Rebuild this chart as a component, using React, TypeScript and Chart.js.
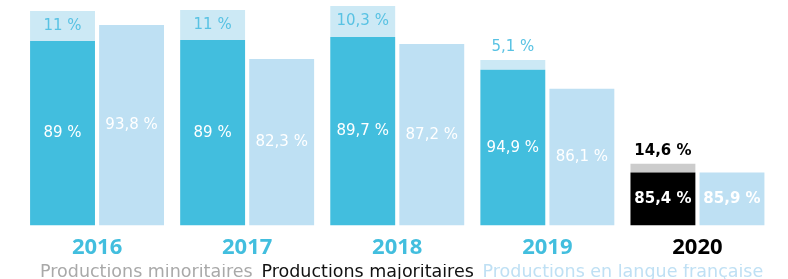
import React, { useEffect, useRef } from 'react';
import { Chart, registerables } from 'chart.js';

Chart.register(...registerables);

const years = ['2016', '2017', '2018', '2019', '2020'];
// bar heights
const majoritaires = [185, 186, 189, 156, 53];
const minoritaires = [30, 30, 31, 10, 9];
const langueFrancaise = [201, 167, 182, 137, 53];
// percentage labels
const pctMajoritaires = ['89 %', '89 %', '89,7 %', '94,9 %', '85,4 %'];
const pctMinoritaires = ['11 %', '11 %', '10,3 %', '5,1 %', '14,6 %'];
const pctLangueFrancaise = ['93,8 %', '82,3 %', '87,2 %', '86,1 %', '85,9 %'];
const legendOrder = ['Productions minoritaires', 'Productions majoritaires', 'Productions en langue française'];

const BLUE = '#42bede';
const PALE = '#cce9f5';
const FR = '#bee0f3';
const LABEL_FONT = '"DejaVu Sans", sans-serif';
const YEAR_FONT = '"Open Sans", sans-serif';

const barLabels = {
  id: 'barLabels',
  afterDatasetsDraw(chart: any) {
    const ctx = chart.ctx;
    ctx.save();
    ctx.textAlign = 'center';
    ctx.textBaseline = 'middle';
    const m0 = chart.getDatasetMeta(0);
    const m1 = chart.getDatasetMeta(1);
    const m2 = chart.getDatasetMeta(2);
    years.forEach((_, i) => {
      const last = i === years.length - 1;
      ctx.font = `${last ? 'bold ' : ''}15px ${LABEL_FONT}`;
      const a = m0.data[i].getProps(['x', 'y', 'base'], true);
      ctx.fillStyle = '#ffffff';
      ctx.fillText(pctMajoritaires[i], a.x, (a.y + a.base) / 2);
      const c = m2.data[i].getProps(['x', 'y', 'base'], true);
      ctx.fillText(pctLangueFrancaise[i], c.x, (c.y + c.base) / 2);
      const b = m1.data[i].getProps(['x', 'y', 'base'], true);
      const h = b.base - b.y;
      ctx.fillStyle = last ? '#000000' : '#58c2e3';
      if (h >= 20) ctx.fillText(pctMinoritaires[i], b.x, (b.y + b.base) / 2);
      else ctx.fillText(pctMinoritaires[i], b.x, b.y - 12.5);
    });
    ctx.restore();
  },
};

export default function App() {
  const ref = useRef<HTMLCanvasElement>(null);
  useEffect(() => {
    document.body.style.margin = '0';
    const legendColors: Record<string, string> = {
      'Productions minoritaires': '#a9a9a9',
      'Productions majoritaires': '#111111',
      'Productions en langue française': '#bfe0f4',
    };
    const chart = new Chart(ref.current as HTMLCanvasElement, {
      type: 'bar',
      data: {
        labels: years,
        datasets: [
          {
            label: 'Productions majoritaires',
            data: majoritaires,
            backgroundColor: [BLUE, BLUE, BLUE, BLUE, '#000000'],
            stack: 'a',
          },
          {
            label: 'Productions minoritaires',
            data: minoritaires,
            backgroundColor: [PALE, PALE, PALE, PALE, '#cccccc'],
            stack: 'a',
          },
          {
            label: 'Productions en langue française',
            data: langueFrancaise,
            backgroundColor: FR,
            stack: 'b',
          },
        ],
      },
      options: {
        responsive: false,
        animation: false,
        categoryPercentage: 0.92,
        barPercentage: 0.94,
        layout: { padding: { left: 22, right: 15.5, top: 6, bottom: -12.5 } },
        scales: {
          x: {
            stacked: true,
            grid: { display: false },
            border: { display: false },
            afterFit: (s: any) => {
              s.height = 38.5;
            },
            ticks: {
              font: { family: YEAR_FONT, size: 22, weight: 'bold' },
              color: (c: any) => (c.index === 4 ? '#000000' : BLUE),
              padding: 1,
            },
          },
          y: { stacked: true, display: false, min: 0, max: 220 },
        },
        plugins: {
          tooltip: { enabled: false },
          legend: {
            position: 'bottom',
            labels: {
              boxWidth: 0,
              boxHeight: 0,
              padding: 0,
              font: { family: LABEL_FONT, size: 17.5 },
              generateLabels: () =>
                legendOrder.map((t) => ({
                  text: t,
                  fillStyle: 'rgba(0,0,0,0)',
                  strokeStyle: 'rgba(0,0,0,0)',
                  lineWidth: 0,
                  fontColor: legendColors[t],
                  hidden: false,
                  datasetIndex: 0,
                })),
            },
          },
        },
      },
      plugins: [barLabels],
    });
    return () => chart.destroy();
  }, []);
  return <canvas ref={ref} width={788} height={279} style={{ display: 'block' }} />;
}
